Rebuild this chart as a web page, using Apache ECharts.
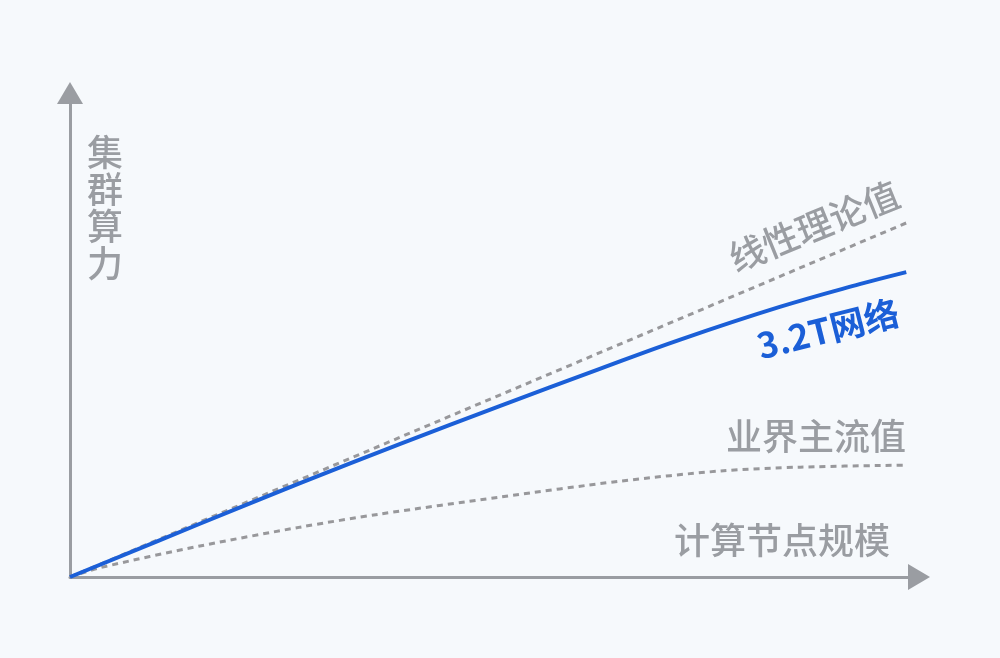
<!DOCTYPE html>
<html lang="zh-CN" style="height: 100%">
<head>
    <meta charset="UTF-8">
    <title>集群算力与计算节点规模</title>
</head>
<body style="height: 100%; margin: 0; background: #f6f9fc">
<div id="container" style="width: 1000px; height: 658px"></div>
<script src="https://cdn.jsdelivr.net/npm/echarts@6/dist/echarts.min.js"></script>
<script>
    // 横轴: 计算节点规模 (0~100), 纵轴: 集群算力 (0~100), 读图估计
    var linearX = [0, 98.7];
    var linearY = [0, 73.3];

    var netX = [0, 15.3, 27.1, 38.9, 50.6, 62.4, 71.8, 83.6, 93.0, 98.5];
    var netY = [0, 11.0, 19.4, 27.5, 35.3, 43.0, 49.0, 55.8, 60.5, 63.0];

    var mainX = [0, 3.5, 15.3, 27.1, 36.5, 50.6, 64.8, 76.6, 86.0, 98.1];
    var mainY = [0, 1.9, 6.4, 10.3, 13.0, 16.5, 19.8, 21.9, 22.7, 23.1];

    var gray = '#9a9da2';
    var blue = '#1b5fd7';
    var font = '"Noto Sans CJK SC"';

    function pairs(xs, ys) {
        return xs.map(function (x, i) {
            return [x, ys[i]];
        });
    }

    var chart = echarts.init(document.getElementById('container'));

    var axisCommon = {
        type: 'value',
        min: 0,
        max: 100,
        axisLine: {
            show: true,
            symbol: ['none', 'triangle'],
            symbolSize: [26, 22],
            lineStyle: {color: gray, width: 3}
        },
        axisTick: {show: false},
        axisLabel: {show: false},
        splitLine: {show: false}
    };

    var option = {
        backgroundColor: '#f6f9fc',
        animation: false,
        grid: {left: 70, right: 81, top: 93, bottom: 81},
        xAxis: axisCommon,
        yAxis: axisCommon,
        series: [
            {
                name: '线性理论值',
                type: 'line',
                data: pairs(linearX, linearY),
                showSymbol: false,
                lineStyle: {color: '#98989b', width: 3, type: [6, 5]},
                z: 2
            },
            {
                name: '业界主流值',
                type: 'line',
                data: pairs(mainX, mainY),
                smooth: 0.3,
                showSymbol: false,
                lineStyle: {color: '#98989b', width: 3, type: [6, 5]},
                z: 2
            },
            {
                name: '3.2T网络',
                type: 'line',
                data: pairs(netX, netY),
                smooth: 0.4,
                showSymbol: false,
                lineStyle: {color: blue, width: 4},
                z: 3
            }
        ],
        graphic: [
            {
                type: 'text', x: 105, y: 208,
                style: {
                    text: '集\n群\n算\n力', fill: gray, font: '500 36px ' + font,
                    lineHeight: 37, align: 'center', verticalAlign: 'middle'
                }
            },
            {
                type: 'text', x: 782, y: 540,
                style: {
                    text: '计算节点规模', fill: gray, font: '500 36px ' + font,
                    align: 'center', verticalAlign: 'middle'
                }
            },
            {
                type: 'text', x: 816, y: 436,
                style: {
                    text: '业界主流值', fill: gray, font: '500 36px ' + font,
                    align: 'center', verticalAlign: 'middle'
                }
            },
            {
                type: 'text', x: 814, y: 226, rotation: 22 * Math.PI / 180,
                style: {
                    text: '线性理论值', fill: gray, font: '500 36px ' + font,
                    align: 'center', verticalAlign: 'middle'
                }
            },
            {
                type: 'text', x: 828, y: 329, rotation: 14 * Math.PI / 180,
                style: {
                    text: '3.2T网络', fill: blue, font: 'bold 35px ' + font,
                    align: 'center', verticalAlign: 'middle'
                }
            }
        ]
    };

    chart.setOption(option);
</script>
</body>
</html>
